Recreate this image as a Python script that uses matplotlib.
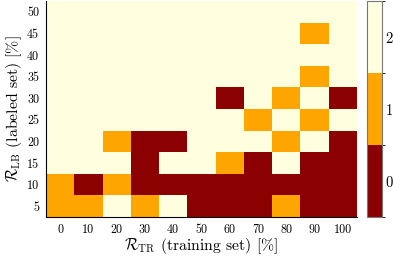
import numpy as np
import matplotlib
matplotlib.use("Agg")
import matplotlib.pyplot as plt
from matplotlib.colors import ListedColormap, BoundaryNorm

plt.rcParams['font.family'] = 'serif'
plt.rcParams['font.serif'] = ['cmr10']
plt.rcParams['mathtext.fontset'] = 'cm'
plt.rcParams['axes.formatter.use_mathtext'] = True

x_labels = [0, 10, 20, 30, 40, 50, 60, 70, 80, 90, 100]
y_labels = [5, 10, 15, 20, 25, 30, 35, 40, 45, 50]

# rows from y=5 (bottom) to y=50 (top)
row_5  = [1, 1, 2, 1, 2, 0, 0, 0, 1, 0, 0]
row_10 = [1, 0, 1, 0, 0, 0, 0, 0, 0, 0, 0]
row_15 = [2, 2, 2, 0, 2, 2, 1, 0, 2, 0, 0]
row_20 = [2, 2, 1, 0, 0, 2, 2, 2, 1, 2, 0]
row_25 = [2, 2, 2, 2, 2, 2, 2, 1, 2, 1, 2]
row_30 = [2, 2, 2, 2, 2, 2, 0, 2, 1, 2, 0]
row_35 = [2, 2, 2, 2, 2, 2, 2, 2, 2, 1, 2]
row_40 = [2, 2, 2, 2, 2, 2, 2, 2, 2, 2, 2]
row_45 = [2, 2, 2, 2, 2, 2, 2, 2, 2, 1, 2]
row_50 = [2, 2, 2, 2, 2, 2, 2, 2, 2, 2, 2]

Z = np.array([row_5, row_10, row_15, row_20, row_25, row_30,
              row_35, row_40, row_45, row_50])

colors = ['#8B0000', '#FFA500', '#FFFFE0']
cmap = ListedColormap(colors)
norm = BoundaryNorm([-0.5, 0.5, 1.5, 2.5], cmap.N)

fig = plt.figure(figsize=(3.93, 2.56), dpi=100)
ax = fig.add_axes([0.117, 0.152, 0.791, 0.844])
xe = np.arange(len(x_labels) + 1) - 0.5
ye = np.arange(len(y_labels) + 1) - 0.5
mesh = ax.pcolormesh(xe, ye, Z, cmap=cmap, norm=norm)
ax.set_xlim(xe[0], xe[-1])
ax.set_ylim(ye[0], ye[-1])
ax.set_xticks(np.arange(len(x_labels)))
ax.set_xticklabels([str(v) for v in x_labels], fontsize=8.7)
ax.set_yticks(np.arange(len(y_labels)))
ax.set_yticklabels([str(v) for v in y_labels], fontsize=8.7)
ax.tick_params(length=0, pad=5)
for s in ['top', 'right']:
    ax.spines[s].set_visible(False)
ax.set_xlabel(r'$\mathcal{R}_{\rm TR}$ (training set) [%]', fontsize=11.3, labelpad=0)
ax.set_ylabel(r'$\mathcal{R}_{\rm LB}$ (labeled set) [%]', fontsize=11.3, labelpad=2)

cax = fig.add_axes([0.934, 0.152, 0.038, 0.844])
cb = fig.colorbar(mesh, cax=cax, ticks=[0, 1, 2])
cb.ax.tick_params(length=0, labelsize=10.5, pad=2)
cb.outline.set_edgecolor('#777777')
cb.outline.set_linewidth(0.8)

fig.savefig('out.png', dpi=100)
